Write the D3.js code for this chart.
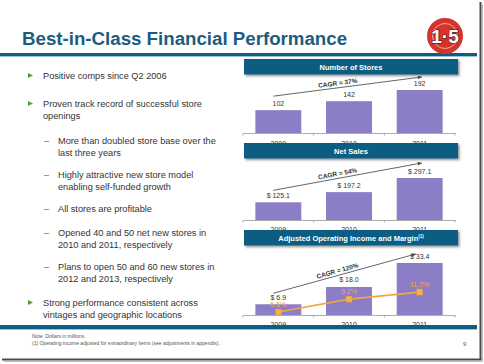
<!DOCTYPE html>
<html><head><meta charset="utf-8">
<script src="https://cdn.jsdelivr.net/npm/d3@7"></script>
<style>
html,body{margin:0;padding:0;background:#fff;}
svg{display:block;font-family:"Liberation Sans",Arial,sans-serif;}
</style></head>
<body>
<svg id="c" width="484" height="364"></svg>
<script>
// ---- data ----
const years = ["2009", "2010", "2011"];
const stores = [102, 142, 192];
const netSales = [125.1, 197.2, 297.1];
const opIncome = [6.9, 18.0, 33.4];
const margin = [5.5, 9.2, 11.2];
const chartTitles = ["Number of Stores", "Net Sales", "Adjusted Operating Income and Margin"];
const cagrLabels = ["CAGR = 37%", "CAGR = 54%", "CAGR = 120%"];
const bullets = [
  {lvl:0, lines:["Positive comps since Q2 2006"]},
  {lvl:0, lines:["Proven track record of successful store", "openings"]},
  {lvl:1, lines:["More than doubled store base over the", "last three years"]},
  {lvl:1, lines:["Highly attractive new store model", "enabling self-funded growth"]},
  {lvl:1, lines:["All stores are profitable"]},
  {lvl:1, lines:["Opened 40 and 50 net new stores in", "2010 and 2011, respectively"]},
  {lvl:1, lines:["Plans to open 50 and 60 new stores in", "2012 and 2013, respectively"]},
  {lvl:0, lines:["Strong performance consistent across", "vintages and geographic locations"]}
];
const bulletY = [79, 107, 144, 178, 212, 236, 270, 306];

const svg = d3.select("#c");
const teal = "#0f5d82";
const purple = "#8c7dc7";
const orange = "#f5a440";

// frame / shadow
const defs = svg.append("defs");
const sh = defs.append("filter").attr("id","sh").attr("x","-10%").attr("y","-10%").attr("width","130%").attr("height","160%");
sh.append("feDropShadow").attr("dx",1.5).attr("dy",1.5).attr("stdDeviation",1).attr("flood-color","#000").attr("flood-opacity",0.45);

svg.append("line").attr("x1",480.5).attr("x2",480.5).attr("y1",2).attr("y2",360).attr("stroke","#4a4a4a").attr("stroke-width",2);
svg.append("line").attr("x1",2).attr("x2",481.5).attr("y1",359.5).attr("y2",359.5).attr("stroke","#4a4a4a").attr("stroke-width",2);
svg.append("line").attr("x1",482.5).attr("x2",482.5).attr("y1",4).attr("y2",362).attr("stroke","#bbb").attr("stroke-width",1);
svg.append("line").attr("x1",4).attr("x2",483).attr("y1",361.5).attr("y2",361.5).attr("stroke","#bbb").attr("stroke-width",1);

// title
svg.append("text").attr("x",22).attr("y",45).attr("fill","#1b5d7e")
  .attr("font-size",18.7).attr("font-weight","bold").text("Best-in-Class Financial Performance");
svg.append("rect").attr("x",0).attr("y",53).attr("width",477).attr("height",3).attr("fill",teal);
svg.append("rect").attr("x",0).attr("y",56).attr("width",477).attr("height",1).attr("fill","#9fc3d4");

// logo
const lg = svg.append("g").attr("transform","translate(445,36)");
lg.append("circle").attr("r",18).attr("fill","#d8322c");
lg.append("circle").attr("r",12.5).attr("fill","none").attr("stroke","#f3c9c4").attr("stroke-width",0.8);
lg.append("text").attr("text-anchor","middle").attr("y",6.5).attr("font-size",19).attr("font-weight","bold")
  .attr("fill","#fff").attr("stroke","#222").attr("stroke-width",1).attr("paint-order","stroke")
  .text("1\u00B75");

// bullets
bullets.forEach((b,i)=>{
  const y0 = bulletY[i];
  if(b.lvl===0){
    svg.append("path").attr("d",`M28,${y0-6}L33,${y0-3.5}L28,${y0-1}Z`).attr("fill","#5b9a3a");
  } else {
    svg.append("text").attr("x",44).attr("y",y0).attr("font-size",9).attr("fill","#666").text("\u2013");
  }
  const tx = b.lvl===0 ? 43 : 58;
  b.lines.forEach((l,j)=>{
    svg.append("text").attr("x",tx).attr("y",y0 + j*11.5).attr("font-size",9.2).attr("fill","#333").text(l);
  });
});

// charts
const x = d3.scaleBand().domain(years).range([243,455]).paddingInner(0.35).paddingOuter(0.175);
const cx = d => x(d) + x.bandwidth()/2;

const charts = [
  {vals:stores, base:133, h:43, hy:143, ly:146, fmt:d=>String(d)},
  {vals:netSales, base:220, h:42, hy:230, ly:231.5, fmt:d=>"$ "+d.toFixed(1)},
  {vals:opIncome, base:315, h:52, hy:null, ly:326.5, fmt:d=>"$ "+d.toFixed(1)}
];
const headerY = [59, 143, 230];
const arrowOff = [[-14,-13],[-12,-15],[-11,-9]];
const arrowEndDx = [2,2,-4];

defs.append("marker").attr("id","ah").attr("viewBox","0 0 10 10").attr("refX",9).attr("refY",5)
  .attr("markerWidth",5).attr("markerHeight",5).attr("orient","auto")
  .append("path").attr("d","M0,1L10,5L0,9Z").attr("fill","#444");

charts.forEach((c,k)=>{
  const y = d3.scaleLinear().domain([0, d3.max(c.vals)]).range([c.base, c.base - c.h]);
  const g = svg.append("g");
  // axis
  const ax = g.append("g").attr("transform",`translate(0,${c.base})`)
    .call(d3.axisBottom(x).tickSize(0).tickFormat(""));
  ax.select(".domain").attr("stroke","#999").attr("stroke-width",0.8);
  // boundary ticks
  const bounds = [243, (x("2009")+x.bandwidth()+x("2010"))/2, (x("2010")+x.bandwidth()+x("2011"))/2, 455];
  bounds.forEach(b=>g.append("line").attr("x1",b).attr("x2",b).attr("y1",c.base).attr("y2",c.base+2.5).attr("stroke","#999").attr("stroke-width",0.8));
  // year labels
  years.forEach(yr=>g.append("text").attr("x",cx(yr)).attr("y",c.ly).attr("text-anchor","middle")
    .attr("font-size",7).attr("fill","#333").text(yr));
  // bars
  g.selectAll("rect.bar").data(c.vals).enter().append("rect").attr("class","bar")
    .attr("x",(d,i)=>x(years[i])).attr("width",x.bandwidth())
    .attr("y",d=>y(d)).attr("height",d=>c.base - y(d)).attr("fill",purple);
  // value labels
  g.selectAll("text.val").data(c.vals).enter().append("text").attr("class","val")
    .attr("x",(d,i)=>cx(years[i])).attr("y",d=>y(d)-4.5).attr("text-anchor","middle")
    .attr("font-size",7).attr("fill","#333").text(c.fmt);
  // CAGR arrow
  const n = c.vals.length-1;
  const x1 = cx(years[0])-5, y1 = y(c.vals[0]) + arrowOff[k][0];
  const x2 = cx(years[n]) + arrowEndDx[k], y2 = y(c.vals[n]) + arrowOff[k][1];
  g.append("line").attr("x1",x1).attr("y1",y1).attr("x2",x2).attr("y2",y2)
    .attr("stroke","#555").attr("stroke-width",0.9).attr("marker-end","url(#ah)");
  const ang = Math.atan2(y2-y1, x2-x1)*180/Math.PI;
  const lx = 338, ly = y1 + (y2-y1)*(lx-x1)/(x2-x1) - 2.5;
  g.append("text").attr("transform",`translate(${lx},${ly}) rotate(${ang})`).attr("text-anchor","middle")
    .attr("font-size",6.5).attr("font-weight","bold").attr("fill","#333").text(cagrLabels[k]);
  // margin line for chart 3
  if(k===2){
    const y2s = d3.scaleLinear().domain([0,15]).range([331.3, 278.8]);
    const line = d3.line().x((d,i)=>cx(years[i])).y(d=>y2s(d));
    g.append("path").datum(margin).attr("d",line).attr("fill","none").attr("stroke",orange).attr("stroke-width",1.6);
    g.selectAll("rect.mk").data(margin).enter().append("rect").attr("class","mk")
      .attr("x",(d,i)=>cx(years[i])-3).attr("y",d=>y2s(d)-3).attr("width",6).attr("height",6)
      .attr("fill","#f8b04a").attr("stroke","#e8962c").attr("stroke-width",0.5);
    g.selectAll("text.mg").data(margin).enter().append("text").attr("class","mg")
      .attr("x",(d,i)=>cx(years[i])).attr("y",d=>y2s(d)-5).attr("text-anchor","middle")
      .attr("font-size",7).attr("fill","#f6a54a").text(d=>d.toFixed(1)+"%");
  }
});

// headers (drawn last to overlap year labels)
headerY.forEach((hy,k)=>{
  const hg = svg.append("g");
  hg.append("rect").attr("x",244).attr("y",hy).attr("width",214).attr("height",15.5)
    .attr("fill",teal).attr("filter","url(#sh)");
  const t = hg.append("text").attr("x",351).attr("y",hy+10.5).attr("text-anchor","middle")
    .attr("font-size",7.5).attr("font-weight","bold").attr("fill","#fff").text(chartTitles[k]);
  if(k===2) t.append("tspan").attr("font-size",4.5).attr("dy",-3).text("(1)");
});

// bottom rule
svg.append("rect").attr("x",0).attr("y",325).attr("width",477).attr("height",4).attr("fill",teal);
svg.append("rect").attr("x",0).attr("y",329).attr("width",477).attr("height",1).attr("fill","#9fc3d4");

// footer
svg.append("text").attr("x",32).attr("y",338).attr("font-size",5).attr("fill","#555").text("Note: Dollars in millions.");
svg.append("text").attr("x",32).attr("y",345).attr("font-size",5).attr("fill","#555")
  .text("(1) Operating income adjusted for extraordinary items (see adjustments in appendix).");
svg.append("text").attr("x",463).attr("y",346).attr("font-size",6).attr("fill","#555").text("9");
</script>
</body></html>
